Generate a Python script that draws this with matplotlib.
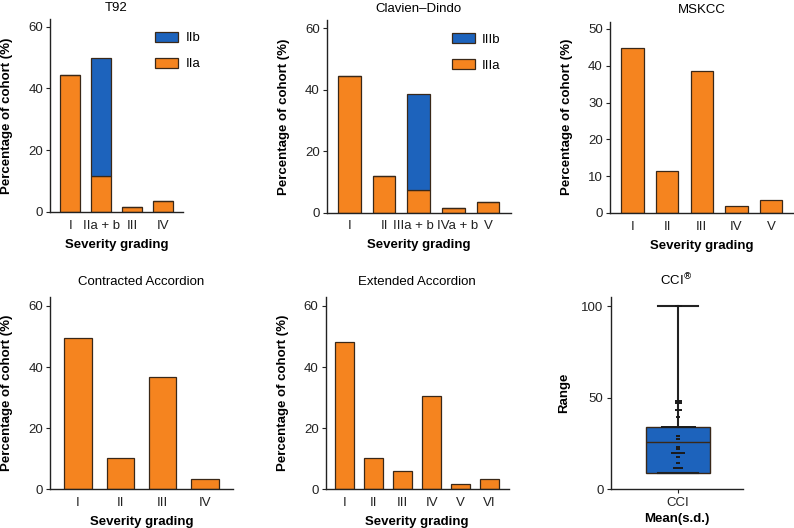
import numpy as np
import matplotlib
matplotlib.use("Agg")
import matplotlib.pyplot as plt
from matplotlib.transforms import ScaledTranslation

plt.rcParams['font.family'] = ['Liberation Sans', 'DejaVu Sans']
plt.rcParams['font.size'] = 9.5

ORANGE = '#F5841F'
BLUE = '#1D63BC'
EDGE = '#3a2818'
AXIS = '#222222'

# T92
t92_labels = ['I', 'IIa + b', 'III', 'IV']
t92_a = [44.5, 11.5, 1.7, 3.4]
t92_b = [0, 38.5, 0, 0]

# Clavien-Dindo
cd_labels = ['I', 'II', 'IIIa + b', 'IVa + b', 'V']
cd_a = [44.5, 12.0, 7.5, 1.7, 3.4]
cd_b = [0, 0, 31.0, 0, 0]

# MSKCC
mskcc_labels = ['I', 'II', 'III', 'IV', 'V']
mskcc_vals = [44.7, 11.5, 38.7, 1.8, 3.4]

# Contracted Accordion
ca_labels = ['I', 'II', 'III', 'IV']
ca_vals = [49.5, 10.3, 36.7, 3.5]

# Extended Accordion
ea_labels = ['I', 'II', 'III', 'IV', 'V', 'VI']
ea_vals = [48.3, 10.1, 6.0, 30.4, 1.7, 3.4]

# CCI box
cci_q1 = 8.8
cci_med = 25.9
cci_q3 = 34.3
cci_max = 100
cci_dots = [100.4, 48.4, 47.0, 43.3, 39.8, 34.3, 29.4, 27.5, 23.3, 22.2, 20.0, 17.9, 14.6, 11.8]
cci_counts = [2, 2, 2, 2, 1, 10, 1, 1, 1, 1, 4, 1, 1, 3]


def style_axes(ax):
    for s in ['top', 'right']:
        ax.spines[s].set_visible(False)
    for s in ['left', 'bottom']:
        ax.spines[s].set_color(AXIS)
        ax.spines[s].set_linewidth(1.0)
    ax.tick_params(axis='y', direction='out', length=3, width=0.8, colors=AXIS, labelsize=9.5, pad=2)
    ax.tick_params(axis='x', length=0, labelsize=9.5, pad=5.5, colors=AXIS)


def bar_panel(rect, title, labels, a, b=None, ymax=62.5, yticks=(0, 20, 40, 60), legend=None, title_pad=6):
    ax = fig.add_axes(rect)
    x = np.arange(len(labels))
    ax.bar(x, a, width=0.65, color=ORANGE, edgecolor=EDGE, linewidth=0.9, label=legend[1] if legend else None)
    if b is not None:
        ax.bar(x, b, bottom=a, width=0.65, color=BLUE, edgecolor=EDGE, linewidth=0.9,
               label=legend[0] if legend else None)
    ax.set_xlim(-0.66, len(labels) - 0.34)
    ax.set_ylim(0, ymax)
    ax.set_yticks(yticks)
    ax.set_xticks(x)
    ax.set_xticklabels(labels)
    ax.set_title(title, fontsize=9.5, pad=title_pad)
    ax.set_xlabel('Severity grading', fontweight='bold', fontsize=9.5, labelpad=5)
    ax.set_ylabel('Percentage of cohort (%)', fontweight='bold', fontsize=9.5, labelpad=11)
    style_axes(ax)
    return ax


def add_legend(ax, anchor):
    h, l = ax.get_legend_handles_labels()
    ax.legend(h[::-1], l[::-1], loc='upper left', bbox_to_anchor=anchor, frameon=False,
              handlelength=1.75, handleheight=0.85, labelspacing=1.0, handletextpad=0.55,
              borderpad=0, borderaxespad=0, fontsize=9.5)


fig = plt.figure(figsize=(7.94, 5.28), dpi=100)

ax1 = bar_panel([0.063, 0.5985, 0.1675, 0.3655], 'T92', t92_labels, t92_a, t92_b, legend=('IIb', 'IIa'))
add_legend(ax1, (0.789, 0.935))

ax2 = bar_panel([0.4115, 0.597, 0.2317, 0.3644], 'Clavien\u2013Dindo', cd_labels, cd_a, cd_b,
                legend=('IIIb', 'IIIa'))
add_legend(ax2, (0.679, 0.935))
# nudge the two long labels apart like the original
for lab, dx in zip(ax2.get_xticklabels(), [0, 0, -3.5, 2.8, 0]):
    lab.set_transform(lab.get_transform() + ScaledTranslation(dx / 72, 0, fig.dpi_scale_trans))

bar_panel([0.768, 0.5966, 0.2317, 0.3625], 'MSKCC', mskcc_labels, mskcc_vals, ymax=52,
          yticks=(0, 10, 20, 30, 40, 50))
bar_panel([0.063, 0.0733, 0.2305, 0.3648], 'Contracted Accordion', ca_labels, ca_vals, ymax=63, title_pad=8.5)
bar_panel([0.410, 0.0733, 0.2309, 0.3648], 'Extended Accordion', ea_labels, ea_vals, ymax=63, title_pad=8.5)

# CCI box plot
ax6 = fig.add_axes([0.769, 0.0733, 0.1666, 0.3637])
stats = [{'q1': cci_q1, 'med': cci_med, 'q3': cci_q3, 'whislo': cci_q1, 'whishi': cci_max,
          'fliers': [], 'label': 'CCI'}]
ax6.bxp(stats, positions=[1], widths=0.49, capwidths=0.3, showfliers=False, patch_artist=True,
        boxprops=dict(facecolor=BLUE, edgecolor=EDGE, linewidth=1.0),
        medianprops=dict(color=EDGE, linewidth=1.0),
        whiskerprops=dict(color=AXIS, linewidth=1.5),
        capprops=dict(color=AXIS, linewidth=1.5))
for v, c in zip(cci_dots, cci_counts):
    w = 3.5 * c * 72 / 100
    ax6.scatter([1], [v], marker='_', s=w ** 2, color='#1a1a1a', linewidths=1.4, zorder=5)
ax6.set_xlim(0.49, 1.49)
ax6.set_ylim(0, 105)
ax6.set_yticks([0, 50, 100])
ax6.set_xticks([1])
ax6.set_xticklabels(['CCI'])
ax6.set_title(r'CCI$^{\circledR}$', fontsize=9.5, pad=8.5)
ax6.set_xlabel('Mean(s.d.)', fontweight='bold', fontsize=9.5, labelpad=3)
ax6.set_ylabel('Range', fontweight='bold', fontsize=9.5, labelpad=8)
style_axes(ax6)
ax6.tick_params(axis='x', length=3, width=0.8, direction='out', pad=2.5)

fig.savefig('out.png', dpi=100)
